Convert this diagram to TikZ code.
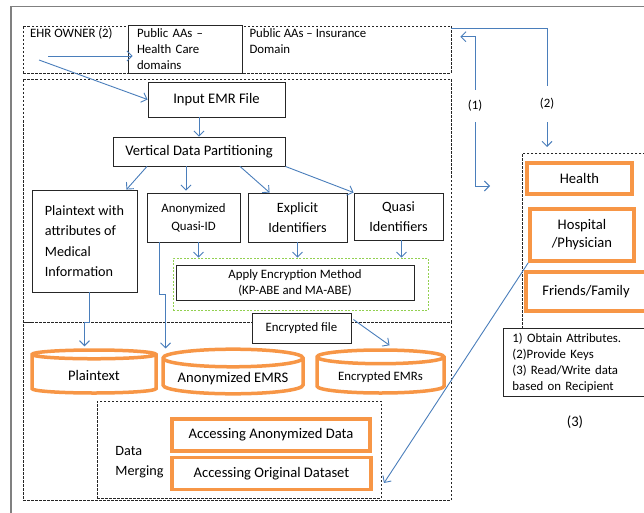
\documentclass[tikz,border=0pt]{standalone}
\usepackage{fontspec}
\setmainfont{Carlito}
\usetikzlibrary{arrows.meta,shapes.geometric,calc}
\definecolor{ablue}{HTML}{4A7EBB}
\definecolor{aorange}{HTML}{F79646}
\definecolor{agreen}{HTML}{92D050}
\tikzset{
 box/.style={draw=black!85, line width=0.9pt, align=center, fill=white},
 dbox/.style={draw=black!85, dash pattern=on 2.5pt off 1.5pt, line width=0.7pt},
 obox/.style={draw=aorange, line width=3.5pt, align=center, fill=white},
 db/.style={cylinder, shape border rotate=90, anchor=shape center, draw=aorange, line width=3.5pt, aspect=0.15, fill=white},
 arr/.style={draw=ablue, line width=0.9pt, -{Straight Barb[length=5pt,width=10pt]}},
 ln/.style={draw=ablue, line width=0.9pt},
 sm/.style={font=\fontsize{12.8}{16}\selectfont},
 big/.style={font=\fontsize{14.2}{19.5}\selectfont},
}
\begin{document}
\begin{tikzpicture}[x=1pt, y=-1pt, font=\fontsize{14.6}{16}\selectfont]
\clip (0,0) rectangle (644,513);
\node[draw=black!50, line width=1.5pt, anchor=north west, minimum width=700pt, minimum height=560pt] (frame) at (10,6) {};
% owner and authorities
\node[dbox, minimum width=428pt, minimum height=47pt] (top) at (237,49.5) {};
\node[sm, anchor=west, inner sep=0pt] (owner) at (30,34) {EHR OWNER (2)};
\node[box, sm, align=left, inner xsep=9pt, text width=96pt, minimum height=48pt] (hc) at (185,49) {Public AAs –\\Health Care\\domains};
\node[sm, anchor=north west, align=left] (ins) at (246,25) {Public AAs – Insurance\\Domain};
% partitioning
\node[dbox, minimum width=428pt, minimum height=243pt] (mid) at (237,200.5) {};
\node[dbox, minimum width=428pt, minimum height=178pt] (bot) at (237,411) {};
\node[box, minimum width=137pt, minimum height=35pt] (inp) at (216.5,99.5) {Input EMR File};
\node[box, minimum width=172pt, minimum height=29pt] (vdp) at (199,151.5) {Vertical Data Partitioning};
\coordinate (o1) at (48,56);
\coordinate (o2) at (39,60);
\draw[arr] (o1) -- ($(hc.west |- o1)+(5,0)$);
\draw[arr] (o2) -- (inp.west);
\draw[arr] (inp.south -| vdp.north) -- (vdp.north);
\node[box, big, font=\fontsize{14.2}{20.5}\selectfont, align=left, minimum width=105pt, minimum height=102pt] (pt) at (84.5,241) {Plaintext with\\attributes of\\Medical\\Information};
\node[box, sm, font=\fontsize{12.8}{18}\selectfont, minimum width=93pt, minimum height=49pt] (aq) at (193.5,217.5) {Anonymized\\Quasi-ID};
\node[box, big, minimum width=99pt, minimum height=49pt] (ei) at (297.5,217.5) {Explicit\\Identifiers};
\node[box, big, minimum width=89pt, minimum height=47pt] (qi) at (398.5,216.5) {Quasi\\Identifiers};
\coordinate (v2) at ($(vdp.south)+(-13,0)$);
\draw[arr] ($(vdp.south)+(-52,0)$) -- ($(pt.north east)+(-11,0)$);
\draw[arr] (v2) -- ($(v2 |- aq.north)+(0,-2)$);
\draw[arr] ($(vdp.south)+(41,0)$) -- ($(ei.north west)+(22,0)$);
\draw[arr] (vdp.south east) -- (qi.north west);
% encryption
\node[draw=agreen, dash pattern=on 2pt off 1.5pt, line width=0.7pt, minimum width=255pt, minimum height=52pt] (grn) at (300.5,284) {};
\node[box, sm, minimum width=238pt, minimum height=35pt] (enc) at (295,283) {Apply Encryption Method\\(KP-ABE and MA-ABE)};
\draw[arr] ($(aq.south)+(5,0)$) -- ($(aq.south |- grn.north)+(5,0)$);
\draw[arr] (ei.south) -- (ei.south |- grn.north);
\draw[arr] ($(qi.south)+(3,0)$) -- ($(qi.south |- grn.north)+(3,0)$);
\node[box, sm, minimum width=99pt, minimum height=30pt] (ef) at (301.5,328) {Encrypted file};
% storage
\node[db, minimum width=124pt, minimum height=43pt] (c1) at (94,371.5) {Plaintext};
\node[db, minimum width=140pt, minimum height=43pt] (c2) at (233,371.5) {Anonymized EMRS};
\node[db, sm, minimum width=127pt, minimum height=43pt] (c3) at (380.5,371.5) {Encrypted EMRs};
\draw[arr] ($(pt.south)+(5,0)$) -- ++(0,30) -- ++(-5,0) -- ($(pt.south |- c1.north)+(0,-2)$);
\draw[arr] ($(aq.south west)+(13,0)$) -- ++(0,52) -- ++(6,0) -- ++(0,54);
\draw[arr] ($(ef.north east)+(2,7)$) -- ($(c3.north)+(9,-3)$);
% merging
\node[dbox, minimum width=284pt, minimum height=97pt] (dm) at (239,449.5) {};
\node[align=left, font=\fontsize{14.2}{20}\selectfont] (dml) at (139.5,462) {Data\\Merging};
\node[obox, minimum width=198pt, minimum height=32pt] (aad) at (271,435) {Accessing Anonymized Data};
\node[obox, minimum width=199pt, minimum height=32pt] (aod) at (271.5,473.5) {Accessing Original Dataset};
% recipients
\node[dbox, anchor=north west, minimum width=200pt, minimum height=175pt] (rd) at (522,153) {};
\node[obox, minimum width=105pt, minimum height=31pt] (hl) at (579.5,178.5) {Health};
\node[obox, font=\fontsize{14.6}{18}\selectfont, minimum width=104pt, minimum height=52pt] (hp) at (582,235) {Hospital\\/Physician};
\node[obox, minimum width=120pt, minimum height=39pt] (ff) at (586,291.5) {Friends/Family};
\node[box, sm, anchor=north west, align=left, inner xsep=9pt, text width=150pt, minimum height=68pt] (lg) at (503,328) {1) Obtain Attributes.\\(2)Provide Keys\\(3) Read/Write data\\based on Recipient};
\node (l3) at (575,422) {(3)};
\coordinate (mrg) at (384,483);
\draw[arr] (hp.south west) -- (mrg);
% request flow
\node[sm, inner sep=0pt, minimum height=32pt] (n1) at (475,106) {(1)};
\node[sm, inner sep=0pt, minimum height=36pt] (n2) at (547,104) {(2)};
\coordinate (h1) at (490,186);
\draw[ln] ($(top.north east)+(0,3)$) -| (n2.north);
\draw[arr] (n2.south) -- ($(n2.south |- rd.north)+(0,-6)$);
\draw[arr] (n1.north) |- ($(top.north east)+(9,11)$);
\draw[arr] (n1.south) |- (h1);
\end{tikzpicture}
\end{document}
